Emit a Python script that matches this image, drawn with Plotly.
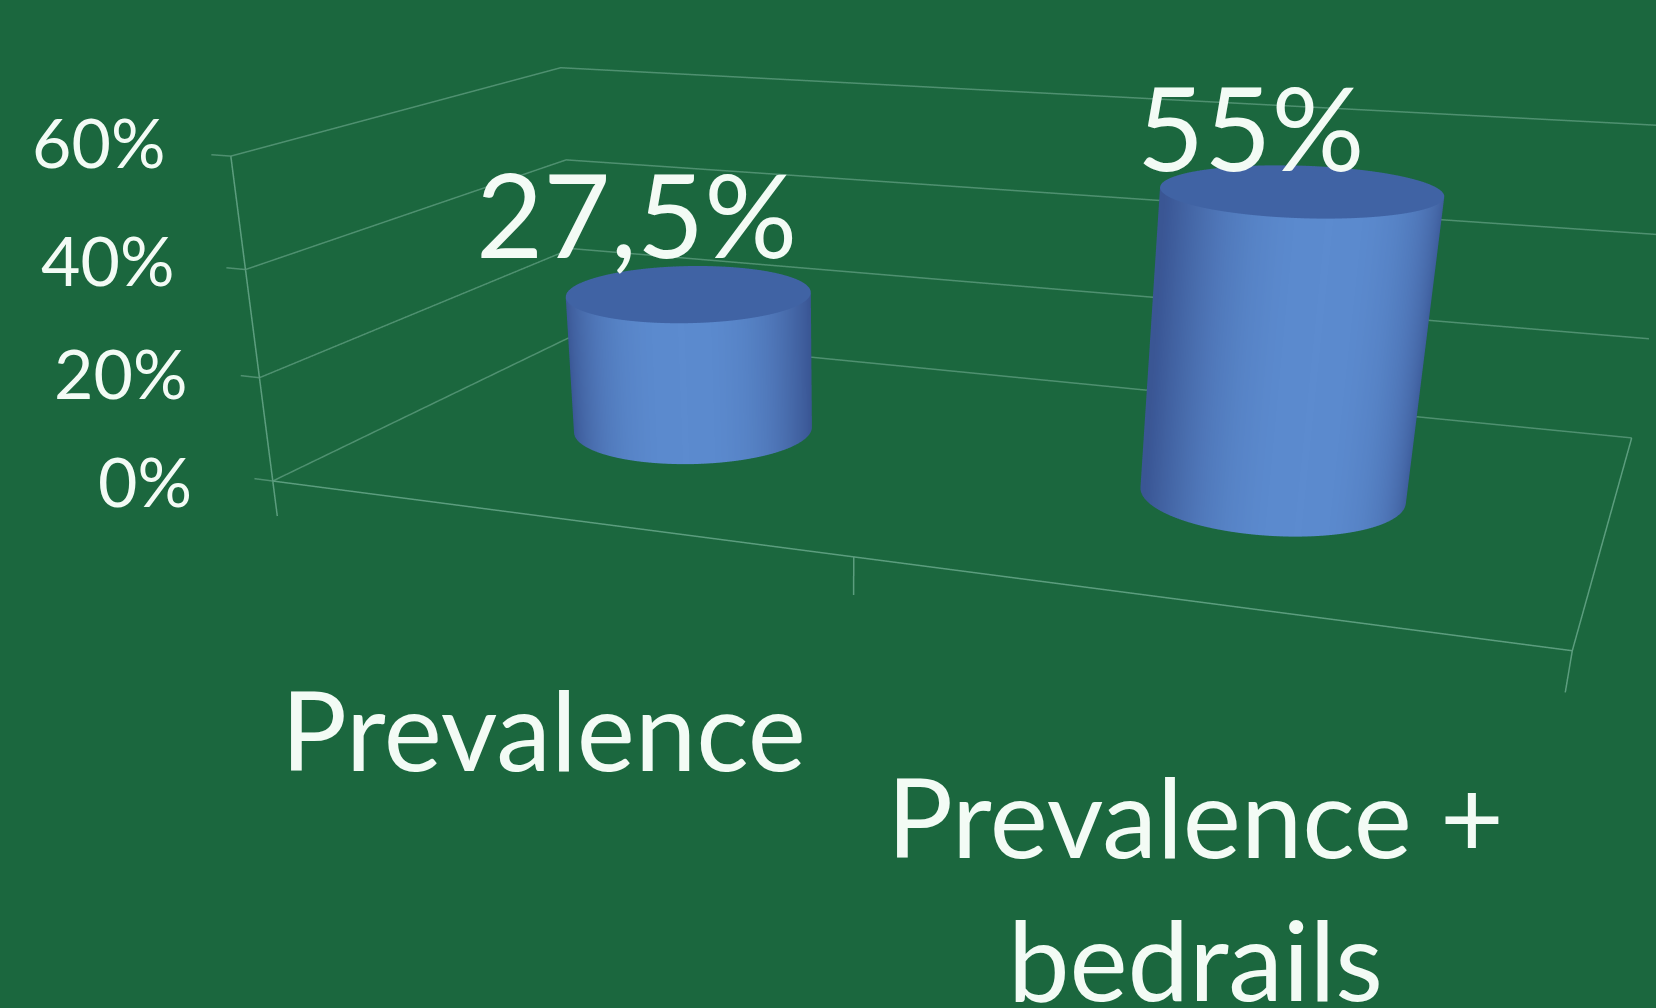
import numpy as np
import plotly.graph_objects as go

# ---- chart data ----
categories = ["Prevalence", "Prevalence +<br>bedrails"]
values = [27.5, 55]
value_labels = ["27,5%", "55%"]
z_ticks = [0, 20, 40, 60]
z_tick_labels = ["0%", "20%", "40%", "60%"]

# ---- look ----
BG = "#1B673E"
TEXT = "#F3FBF5"
GRID = "#4F9070"
AXIS = "#5C9D7E"
FONT = "Lato"
FIG_W, FIG_H = 1656, 1800   # the window crops the lower part, as the reference is cropped

eye = dict(x=1.101, y=-3.316, z=0.802)
center = dict(x=-0.050, y=-0.500, z=-0.832)
up = dict(x=0.005, y=0, z=1)
LX, LY, LZ = 2.0, 1.034, 0.499
X_RANGE, Y_RANGE, Z_RANGE = [-0.2, 2.2], [-0.2, 1.2], [-10, 70]
aspect = dict(x=LX * 1.2, y=LY * 1.4, z=LZ * 80 / 60)
A, B = 0.204, 0.21   # cylinder half-axes in scene units
N_SEG = 120

f = np.array([center[k] - eye[k] for k in "xyz"])
right = np.cross(f, [up["x"], up["y"], up["z"]])
right[2] = 0
right /= np.linalg.norm(right)
back = np.array([-right[1], right[0], 0])


def lerp_colour(t):
    edge = np.array([58, 86, 148])
    mid = np.array([92, 139, 207])
    c = edge + (mid - edge) * t
    return f"rgb({int(c[0])},{int(c[1])},{int(c[2])})"


def cylinder(xc, yc, h):
    th = np.linspace(0, 2 * np.pi, N_SEG, endpoint=False)
    sx = A * np.cos(th) * right[0] + B * np.sin(th) * back[0]
    sy = A * np.cos(th) * right[1] + B * np.sin(th) * back[1]
    rx, ry = xc + sx / (LX / 2), yc + sy / LY
    col = [lerp_colour(1 - v ** 2.6) for v in np.abs(np.cos(th))]
    X = np.r_[rx, rx, rx, xc]
    Y = np.r_[ry, ry, ry, yc]
    Z = np.r_[np.zeros(N_SEG), np.full(N_SEG, h), np.full(N_SEG, h), h]
    cap = "rgb(64,99,164)"
    vc = col + col + [cap] * (N_SEG + 1)
    I, J, K = [], [], []
    for a in range(N_SEG):
        b = (a + 1) % N_SEG
        I += [a, b]
        J += [b, b + N_SEG]
        K += [a + N_SEG, a + N_SEG]
        I.append(2 * N_SEG + a)
        J.append(2 * N_SEG + b)
        K.append(3 * N_SEG)
    return go.Mesh3d(x=X, y=Y, z=Z, i=I, j=J, k=K, vertexcolor=vc, flatshading=False,
                     lighting=dict(ambient=1, diffuse=0, specular=0, roughness=1, fresnel=0),
                     hoverinfo="skip", showscale=False)


fig = go.Figure()

gx, gy, gz = [], [], []
for t in z_ticks:
    gx += [-0.035, 0, 0, 2, None]
    gy += [0, 0, 1, 1, None]
    gz += [t, t, t, t, None]
fig.add_trace(go.Scatter3d(x=gx, y=gy, z=gz, mode="lines", line=dict(color=GRID, width=3), hoverinfo="skip"))

ax, ay, az = [0, 2, 2, None, 0, 0, None], [0, 0, 1, None, 0, 0, None], [0, 0, 0, None, 0, z_ticks[-1], None]
for i in range(len(categories) + 1):
    ax += [i, i, None]
    ay += [0, 0, None]
    az += [0, -7, None]
fig.add_trace(go.Scatter3d(x=ax, y=ay, z=az, mode="lines", line=dict(color=AXIS, width=3), hoverinfo="skip"))

for i, v in enumerate(values):
    fig.add_trace(cylinder(i + 0.5, 0.5, v))

ann = []
for t, lab, xs, ys in zip(z_ticks, z_tick_labels, [-60, -52, -50, -44], [-2, 3, 8, 13]):
    ann.append(dict(x=-0.035, y=0, z=t, text=lab, showarrow=False, xanchor="right", yanchor="middle",
                    xshift=xs, yshift=ys, font=dict(family=FONT, size=68, color=TEXT)))
for i, (v, lab, xs, ys) in enumerate(zip(values, value_labels, [-52, -50], [80, 64])):
    ann.append(dict(x=i + 0.5, y=0.5, z=v, text=lab, showarrow=False, xanchor="center", yanchor="middle",
                    xshift=xs, yshift=ys, font=dict(family=FONT, size=116, color=TEXT)))
for i, (lab, xs, ys) in enumerate(zip(categories, [-5, 3], [-211, -285])):
    ann.append(dict(x=i + 0.5, y=0, z=0, text=lab, showarrow=False, xanchor="center", yanchor="middle",
                    xshift=xs, yshift=ys, font=dict(family=FONT, size=110, color=TEXT)))

hidden = dict(visible=False)
fig.update_layout(
    width=FIG_W, height=FIG_H, margin=dict(l=0, r=0, t=0, b=0), paper_bgcolor=BG, showlegend=False,
    hovermode=False,
    scene=dict(dragmode="orbit", domain=dict(x=[0, 1], y=[0, 1]), aspectmode="manual", aspectratio=aspect,
               xaxis=dict(range=X_RANGE, **hidden), yaxis=dict(range=Y_RANGE, **hidden),
               zaxis=dict(range=Z_RANGE, **hidden),
               camera=dict(eye=eye, center=center, up=up), annotations=ann))
fig.write_html("out.html", config=dict(displayModeBar=False),
               post_script="document.body.style.margin='0';document.body.style.background='%s';"
                           "document.documentElement.style.overflow='hidden';document.body.style.overflow='hidden';" % BG)
